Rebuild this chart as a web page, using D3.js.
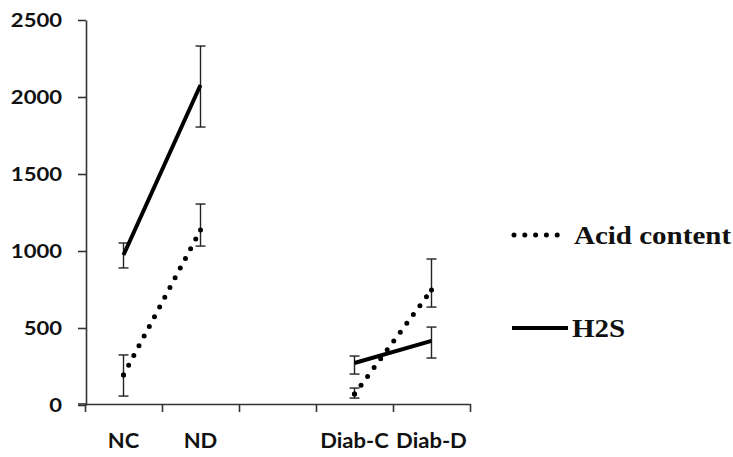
<!DOCTYPE html>
<html>
<head>
<meta charset="utf-8">
<script src="https://cdn.jsdelivr.net/npm/d3@7"></script>
<style>
  body { margin: 0; background: #fff; }
  svg { display: block; }
</style>
</head>
<body>
<script>
"use strict";

// categories along the x axis ("" is the empty slot between groups)
const categories = ["NC", "ND", "", "Diab-C", "Diab-D"];

// Acid content: mean and error bar limits
const acidMean = [195, 1136, null, 71, 747];
const acidLow  = [58, 1032, null, 45, 636];
const acidHigh = [325, 1305, null, 110, 948];

// H2S: mean and error bar limits
const h2sMean = [974, 2078, null, 273, 416];
const h2sLow  = [890, 1805, null, 201, 305];
const h2sHigh = [1052, 2331, null, 318, 506];

const yTicks = [0, 500, 1000, 1500, 2000, 2500];
const legendNames = ["Acid content", "H2S"];

const size = { width: 733, height: 457 };
const plot = { left: 86, right: 470, top: 20, bottom: 405 };

const svg = d3.select("body").append("svg")
    .attr("width", size.width)
    .attr("height", size.height);

// boundaries of the category slots, centres at i + 0.5
const scaleX = d3.scaleLinear()
    .domain([0, categories.length])
    .range([plot.left - 1, plot.right]);

const scaleY = d3.scaleLinear()
    .domain([0, 2500])
    .range([plot.bottom, plot.top]);

// stretch a text to look like the wide original
function stretch(sel, factor) {
  sel.each(function() {
    const w = this.getComputedTextLength();
    d3.select(this)
      .attr("textLength", w * factor)
      .attr("lengthAdjust", "spacingAndGlyphs");
  });
}

// axes
const yAxis = d3.axisLeft(scaleY)
    .tickValues(yTicks)
    .tickFormat(d3.format("d"))
    .tickSize(8)
    .tickSizeOuter(0)
    .tickPadding(16);

const gy = svg.append("g")
    .attr("transform", `translate(${plot.left},0)`)
    .call(yAxis);
gy.select(".domain").attr("stroke", "#333").attr("stroke-width", 1.6);
gy.selectAll(".tick line").attr("stroke", "#333").attr("stroke-width", 1.6);
gy.selectAll(".tick text")
    .attr("fill", "#111")
    .style("font-family", "Lato, 'Open Sans', sans-serif")
    .style("font-weight", "bold")
    .style("font-size", "19px")
    .call(stretch, 1.16);

const xAxis = d3.axisBottom(scaleX)
    .tickValues(d3.range(categories.length + 1))
    .tickFormat("")
    .tickSize(8)
    .tickSizeOuter(0);

const gx = svg.append("g")
    .attr("transform", `translate(0,${plot.bottom - 1})`)
    .call(xAxis);
gx.select(".domain").attr("stroke", "#333").attr("stroke-width", 1.6);
gx.selectAll(".tick line").attr("stroke", "#333").attr("stroke-width", 1.6);

// left stub of the x axis
svg.append("line")
    .attr("x1", plot.left - 8).attr("x2", plot.left)
    .attr("y1", plot.bottom - 1).attr("y2", plot.bottom - 1)
    .attr("stroke", "#333").attr("stroke-width", 1.6);

svg.append("g").selectAll("text")
    .data(categories)
    .enter()
    .append("text")
    .attr("x", (d, i) => scaleX(i + 0.5))
    .attr("y", 448)
    .attr("text-anchor", "middle")
    .attr("fill", "#111")
    .style("font-family", "Lato, 'Open Sans', sans-serif")
    .style("font-weight", "bold")
    .style("font-size", "20px")
    .text(d => d)
    .filter(d => d !== "")
    .call(stretch, 1.1);

// series
const series = [
  { name: legendNames[0], mean: acidMean, low: acidLow, high: acidHigh, dotted: true },
  { name: legendNames[1], mean: h2sMean, low: h2sLow, high: h2sHigh, dotted: false }
];

const line = d3.line()
    .defined(d => d.v != null)
    .x(d => scaleX(d.i + 0.5))
    .y(d => scaleY(d.v));

series.forEach(function(s) {
  const pts = s.mean.map((v, i) => ({ i: i, v: v }));
  const shown = pts.filter(p => p.v != null);

  // error bars
  const bars = svg.append("g")
      .selectAll("g")
      .data(shown)
      .enter()
      .append("g")
      .attr("stroke", "#222")
      .attr("stroke-width", 1.4);
  bars.append("line")
      .attr("x1", d => scaleX(d.i + 0.5)).attr("x2", d => scaleX(d.i + 0.5))
      .attr("y1", d => scaleY(s.low[d.i])).attr("y2", d => scaleY(s.high[d.i]));
  bars.append("line")
      .attr("x1", d => scaleX(d.i + 0.5) - 5).attr("x2", d => scaleX(d.i + 0.5) + 5)
      .attr("y1", d => scaleY(s.low[d.i])).attr("y2", d => scaleY(s.low[d.i]));
  bars.append("line")
      .attr("x1", d => scaleX(d.i + 0.5) - 5).attr("x2", d => scaleX(d.i + 0.5) + 5)
      .attr("y1", d => scaleY(s.high[d.i])).attr("y2", d => scaleY(s.high[d.i]));

  const path = svg.append("path")
      .datum(pts)
      .attr("d", line)
      .attr("fill", "none")
      .attr("stroke", "#000");
  if (s.dotted) {
    path.attr("stroke-width", 5)
        .attr("stroke-linecap", "round")
        .attr("stroke-dasharray", "0 11");
    // small markers on the data points
    svg.append("g").selectAll("circle")
        .data(shown)
        .enter()
        .append("circle")
        .attr("cx", d => scaleX(d.i + 0.5))
        .attr("cy", d => scaleY(d.v))
        .attr("r", 2.5)
        .attr("fill", "#000");
  } else {
    path.attr("stroke-width", 4);
  }
});

// legend
const legend = svg.append("g")
    .selectAll("g")
    .data(series)
    .enter()
    .append("g")
    .attr("transform", (d, i) => `translate(512,${235 + i * 93})`);

legend.append("line")
    .attr("x1", d => d.dotted ? 2 : 0).attr("x2", 56)
    .attr("y1", 0).attr("y2", 0)
    .attr("stroke", "#000")
    .attr("stroke-width", d => d.dotted ? 5 : 4)
    .attr("stroke-linecap", d => d.dotted ? "round" : "butt")
    .attr("stroke-dasharray", d => d.dotted ? "0 10.8" : null);

legend.append("text")
    .attr("x", d => d.dotted ? 62 : 60)
    .attr("y", 9)
    .attr("fill", "#111")
    .style("font-family", "'Liberation Serif', 'Times New Roman', serif")
    .style("font-weight", "bold")
    .style("font-size", "25px")
    .text(d => d.name)
    .call(stretch, 1.16);
</script>
</body>
</html>
